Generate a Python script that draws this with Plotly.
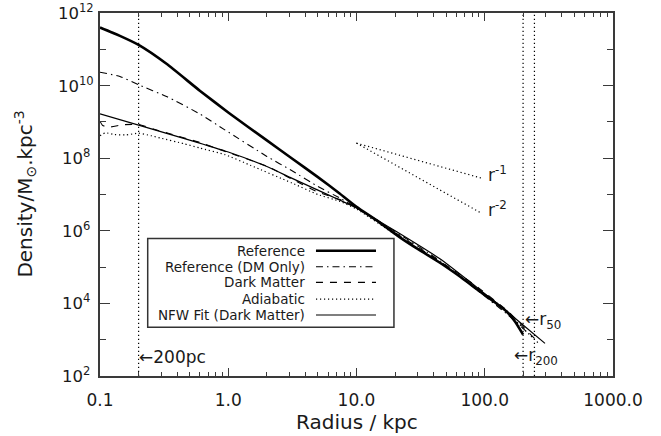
import math
import plotly.graph_objects as go

# ---------------- data ----------------
ref_r = [0.1, 0.143, 0.2, 0.33, 0.6, 1.0, 2.0, 3.12, 5.0, 7.43, 10, 15, 21.8, 30, 44.7, 64, 91.6, 120, 148, 172, 199]
ref_rho = [3.98e11, 2.34e11, 1.32e11, 3.98e10, 7.24e9, 1.82e9, 3.09e8, 1.0e8, 3.02e7, 1.05e7, 4.57e6,
           1.74e6, 6.61e5, 3.16e5, 1.32e5, 5.5e4, 2.14e4, 1.07e4, 6.0e3, 3.16e3, 1.38e3]

dmo_r = [0.1, 0.143, 0.2, 0.33, 0.6, 0.94, 2.0, 3.12, 5.0, 7.43, 10, 20, 45, 100, 150, 215]
dmo_rho = [2.34e10, 1.78e10, 1.05e10, 5.01e9, 1.66e9, 6.03e8, 1.12e8, 4.57e7, 1.66e7, 7.94e6, 4.37e6,
           9.55e5, 1.48e5, 1.58e4, 5.01e3, 1.58e3]

dm_r = [0.1, 0.105, 0.12, 0.15, 0.2, 0.268, 0.345, 0.58, 0.96, 2.0, 3.12, 5.0, 7.43, 10, 20, 45, 64, 91.6, 150, 200, 250]
dm_rho = [1.05e9, 7.94e8, 7.24e8, 8.32e8, 8.51e8, 6.17e8, 4.79e8, 2.82e8, 1.51e8, 6.03e7, 2.69e7, 1.17e7,
          7.24e6, 4.27e6, 8.91e5, 1.41e5, 6.31e4, 2.51e4, 6.31e3, 2.24e3, 1.0e3]

adi_r = [0.1, 0.11, 0.13, 0.16, 0.2, 0.25, 0.3, 0.45, 0.6, 0.94, 1.5, 3.12, 5.0, 7.43, 10, 20, 45, 90, 150, 200, 260]
adi_rho = [4.17e8, 5.01e8, 4.47e8, 4.37e8, 4.90e8, 4.17e8, 3.55e8, 2.51e8, 1.91e8, 1.26e8, 6.31e7, 2.09e7,
           1.0e7, 6.46e6, 3.98e6, 7.94e5, 1.35e5, 2.40e4, 6.03e3, 2.0e3, 8.32e2]

nfw_r = [0.1, 0.2, 0.5, 1.0, 2.0, 3.12, 5.0, 7.43, 10, 20, 45, 100, 150, 200, 295]
nfw_rho = [1.66e9, 8.13e8, 3.16e8, 1.48e8, 5.89e7, 2.82e7, 1.32e7, 6.92e6, 4.27e6, 1.0e6, 1.66e5, 1.86e4,
           5.89e3, 2.51e3, 7.94e2]

# power-law guide lines (r^-1, r^-2)
guide_r = [10, 95]
guide_m1 = [2.6e8, 2.8e7]
guide_m2 = [2.6e8, 3.0e6]

# vertical markers: 200 pc, r200, r50 (kpc)
marker_r = [0.2, 199, 244]
marker_rho_span = [1e2, 1e12]

series_names = ["Reference", "Reference (DM Only)", "Dark Matter", "Adiabatic", "NFW Fit (Dark Matter)"]

x_tickvals = [0.1, 1, 10, 100, 1000]
x_ticktext = ["0.1", "1.0", "10.0", "100.0", "1000.0"]
y_tickvals = [1e2, 1e4, 1e6, 1e8, 1e10, 1e12]
y_ticktext = ["10<sup>2</sup>", "10<sup>4</sup>", "10<sup>6</sup>", "10<sup>8</sup>", "10<sup>10</sup>", "10<sup>12</sup>"]
y_minorvals = [1e3, 1e5, 1e7, 1e9, 1e11]

# ---------------- styling ----------------
FONT = "DejaVu Sans"
INK = "#1a1a1a"
AXC = "#3a3a3a"
styles = [
    dict(width=2.6, dash="solid"),
    dict(width=1.1, dash="7px,4px,1.5px,4px"),
    dict(width=1.1, dash="7px,7px"),
    dict(width=1.2, dash="1.2px,2.8px"),
    dict(width=1.2, dash="solid"),
]
series = [(ref_r, ref_rho), (dmo_r, dmo_rho), (dm_r, dm_rho), (adi_r, adi_rho), (nfw_r, nfw_rho)]

fig = go.Figure()
for (rr, rho), st, nm in zip(series, styles, series_names):
    fig.add_trace(go.Scatter(x=rr, y=rho, mode="lines", name=nm, showlegend=False,
                             line=dict(color="black", width=st["width"], dash=st["dash"],
                                       shape="spline", smoothing=0.5)))

for gy in (guide_m1, guide_m2):
    fig.add_trace(go.Scatter(x=guide_r, y=gy, mode="lines", showlegend=False,
                             line=dict(color="black", width=1.2, dash="1.2px,2.8px")))

for mr in marker_r:
    fig.add_trace(go.Scatter(x=[mr, mr], y=marker_rho_span, mode="lines", showlegend=False,
                             line=dict(color="black", width=1.2, dash="1.2px,2.8px")))

# ---------------- manual legend (box with right-aligned labels, samples on right) ----------------
box = dict(x0=0.093, x1=0.573, y0=0.134, y1=0.379)
fig.add_shape(type="rect", xref="paper", yref="paper", **box,
              line=dict(color="#333", width=1.5), fillcolor="white", layer="above")
row_y = [0.345, 0.301, 0.258, 0.212, 0.168]
for nm, st, yy in zip(series_names, styles, row_y):
    fig.add_annotation(xref="paper", yref="paper", x=0.404, y=yy, text=nm, showarrow=False,
                       xanchor="right", yanchor="middle", font=dict(family=FONT, size=13.5, color=INK))
    fig.add_shape(type="line", xref="paper", yref="paper", x0=0.421, x1=0.538, y0=yy, y1=yy,
                  line=dict(color="black", width=st["width"], dash=st["dash"]), layer="above")

# ---------------- text labels ----------------
def note(x, y, text, size=17, xanchor="left"):
    fig.add_annotation(xref="paper", yref="paper", x=x, y=y, text=text, showarrow=False,
                       xanchor=xanchor, yanchor="middle", font=dict(family=FONT, size=size, color=INK))

note(0.072, 0.053, "←200pc")
note(0.825, 0.154, "←r<sub>50</sub>")
note(0.803, 0.053, "←r<sub>200</sub>")
note(0.752, 0.556, "r<sup>-1</sup>")
note(0.752, 0.460, "r<sup>-2</sup>")

# y tick labels, centred like the reference (IDL style)
for v, t in zip(y_tickvals, y_ticktext):
    fig.add_annotation(xref="paper", yref="y", x=-0.046, y=math.log10(v), text=t, showarrow=False,
                       xanchor="center", yanchor="middle", yshift=1,
                       font=dict(family=FONT, size=16.5, color=INK))

fig.add_annotation(xref="paper", yref="paper", x=0.5, y=-0.128, text="Radius / kpc", showarrow=False,
                   xanchor="center", yanchor="middle", font=dict(family=FONT, size=20, color=INK))
fig.add_annotation(xref="paper", yref="paper", x=-0.146, y=0.50, text="Density/M<sub>⊙</sub>.kpc<sup>-3</sup>",
                   showarrow=False, textangle=-90, xanchor="center", yanchor="middle",
                   font=dict(family=FONT, size=20, color=INK))

axis_common = dict(showgrid=False, zeroline=False, showline=True, linecolor=AXC, linewidth=1.8,
                   mirror="ticks", ticks="inside", tickcolor=AXC, tickwidth=1.2)

fig.update_xaxes(type="log", range=[-1, 3], tickvals=x_tickvals, ticktext=x_ticktext, ticklen=8,
                 tickfont=dict(family=FONT, size=17, color=INK), ticklabelstandoff=8,
                 minor=dict(ticks="inside", ticklen=4, dtick="D1", tickcolor=AXC, tickwidth=1),
                 **axis_common)
fig.update_yaxes(type="log", range=[2, 12], tickvals=y_tickvals, showticklabels=False, ticklen=10,
                 minor=dict(ticks="inside", ticklen=6, tickvals=y_minorvals, tickcolor=AXC, tickwidth=1),
                 **axis_common)

fig.update_layout(width=661, height=436, margin=dict(l=100, r=48, t=13, b=60),
                  plot_bgcolor="white", paper_bgcolor="white", showlegend=False,
                  font=dict(family=FONT, color=INK))

fig.write_html("out.html", config={"displayModeBar": False, "staticPlot": True},
               post_script="document.body.style.margin='0';")
